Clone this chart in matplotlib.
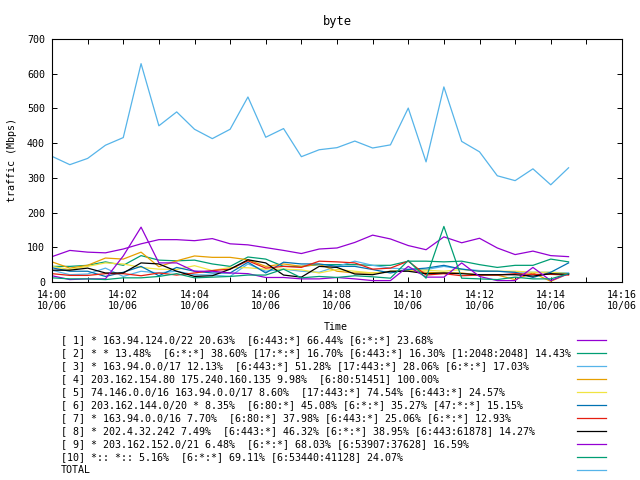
import matplotlib
matplotlib.use("Agg")
import matplotlib.pyplot as plt
import matplotlib.dates as mdates
from matplotlib.lines import Line2D
import pandas as pd

# time axis: one sample every 30 s
times = pd.date_range("2023-10-06 14:00:00", periods=30, freq="30s")

labels = [
    "[ 1] * 163.94.124.0/22 20.63%  [6:443:*] 66.44% [6:*:*] 23.68%",
    "[ 2] * * 13.48%  [6:*:*] 38.60% [17:*:*] 16.70% [6:443:*] 16.30% [1:2048:2048] 14.43%",
    "[ 3] * 163.94.0.0/17 12.13%  [6:443:*] 51.28% [17:443:*] 28.06% [6:*:*] 17.03%",
    "[ 4] 203.162.154.80 175.240.160.135 9.98%  [6:80:51451] 100.00%",
    "[ 5] 74.146.0.0/16 163.94.0.0/17 8.60%  [17:443:*] 74.54% [6:443:*] 24.57%",
    "[ 6] 203.162.144.0/20 * 8.35%  [6:80:*] 45.08% [6:*:*] 35.27% [47:*:*] 15.15%",
    "[ 7] * 163.94.0.0/16 7.70%  [6:80:*] 37.98% [6:443:*] 25.06% [6:*:*] 12.93%",
    "[ 8] * 202.4.32.242 7.49%  [6:443:*] 46.32% [6:*:*] 38.95% [6:443:61878] 14.27%",
    "[ 9] * 203.162.152.0/21 6.48%  [6:*:*] 68.03% [6:53907:37628] 16.59%",
    "[10] *:: *:: 5.16%  [6:*:*] 69.11% [6:53440:41128] 24.07%",
    "TOTAL",
]

s1 = [73, 91, 86, 84, 95, 110, 122, 122, 119, 125, 110, 107, 99, 91, 82, 95,
      98, 114, 135, 124, 105, 93, 130, 113, 126, 98, 79, 89, 76, 73]
s2 = [45, 45, 48, 58, 48, 76, 63, 61, 63, 52, 45, 72, 66, 45, 45, 50,
      50, 50, 48, 48, 60, 60, 58, 60, 50, 42, 48, 48, 66, 58]
s3 = [34, 21, 23, 40, 16, 31, 26, 31, 21, 20, 16, 52, 31, 37, 31, 28,
      45, 60, 48, 40, 37, 36, 45, 37, 33, 31, 28, 28, 28, 26]
s4 = [58, 40, 48, 69, 66, 86, 44, 61, 75, 71, 71, 64, 45, 52, 45, 51,
      31, 26, 26, 28, 34, 28, 26, 26, 20, 20, 7, 26, 2, 24]
s5 = [45, 36, 45, 55, 52, 42, 37, 36, 47, 33, 42, 41, 37, 37, 35, 26,
      36, 31, 26, 31, 34, 34, 31, 36, 31, 31, 31, 28, 28, 24]
s6 = [41, 31, 31, 16, 28, 45, 18, 42, 31, 26, 26, 57, 26, 57, 52, 52,
      45, 45, 36, 26, 36, 40, 48, 37, 31, 31, 28, 13, 28, 55]
s7 = [24, 19, 19, 24, 24, 18, 26, 20, 26, 33, 37, 61, 40, 45, 42, 60,
      58, 55, 37, 40, 60, 20, 24, 18, 20, 20, 24, 22, 22, 20]
s8 = [34, 34, 40, 26, 26, 55, 52, 31, 16, 18, 37, 64, 55, 20, 14, 45,
      42, 23, 21, 31, 31, 24, 26, 24, 21, 21, 21, 17, 24, 22]
s9 = [18, 7, 9, 9, 75, 158, 55, 55, 31, 31, 26, 24, 13, 13, 9, 9,
      13, 9, 4, 4, 45, 14, 14, 55, 16, 4, 4, 42, 4, 24]
s10 = [12, 9, 9, 7, 12, 12, 16, 24, 12, 14, 16, 20, 20, 37, 12, 16,
       13, 18, 15, 11, 62, 11, 160, 11, 9, 7, 14, 9, 9, 24]
total = [362, 338, 356, 394, 416, 629, 450, 490, 440, 413, 440, 533, 417, 442, 361, 381,
         387, 406, 386, 395, 501, 346, 562, 405, 375, 306, 292, 326, 280, 329]

series = [s1, s2, s3, s4, s5, s6, s7, s8, s9, s10, total]
colors = ["#9400d3", "#009e73", "#56b4e9", "#e69f00", "#f0e442", "#0072b2",
          "#e51e10", "#000000", "#9400d3", "#009e73", "#56b4e9"]

plt.rcParams["font.family"] = "DejaVu Sans Mono"
plt.rcParams["font.size"] = 7.2

fig = plt.figure(figsize=(6.4, 4.8), dpi=100)
ax = fig.add_axes([52/640, 1-282/480, 570/640, 243/480])

for vals, c in zip(series, colors):
    ax.plot(times, vals, color=c, lw=0.9)

ax.set_xlim(pd.Timestamp("2023-10-06 14:00"), pd.Timestamp("2023-10-06 14:16"))
ax.set_ylim(0, 700)
ax.set_yticks(range(0, 701, 100))
ax.xaxis.set_major_locator(mdates.MinuteLocator(byminute=range(0, 60, 2)))
ax.xaxis.set_minor_locator(mdates.MinuteLocator())
ax.xaxis.set_major_formatter(mdates.DateFormatter("%H:%M\n%m/%d"))

ax.tick_params(which="both", direction="in", top=True, right=True,
               length=3.6, width=0.7, colors="black")
ax.tick_params(axis="y", pad=5)
ax.tick_params(axis="x", pad=6)
for lbl in ax.get_xticklabels():
    lbl.set_linespacing(1.1)
for sp in ax.spines.values():
    sp.set_linewidth(0.8)

ax.set_title("byte", pad=10)
ax.set_ylabel("traffic (Mbps)")
ax.yaxis.set_label_coords(-0.062, 0.5)
ax.set_xlabel("Time")
ax.xaxis.set_label_coords(0.498, -0.163)

# key below the plot: text on the left, line sample on the right
for i, (lab, c) in enumerate(zip(labels, colors)):
    yy = 1 - (340 + 13 * i) / 480
    fig.text(61/640, yy, lab, ha="left", va="center")
    fig.add_artist(Line2D([577/640, 606/640], [yy, yy], color=c, lw=0.9,
                          transform=fig.transFigure))

fig.savefig("out.png", dpi=100)
